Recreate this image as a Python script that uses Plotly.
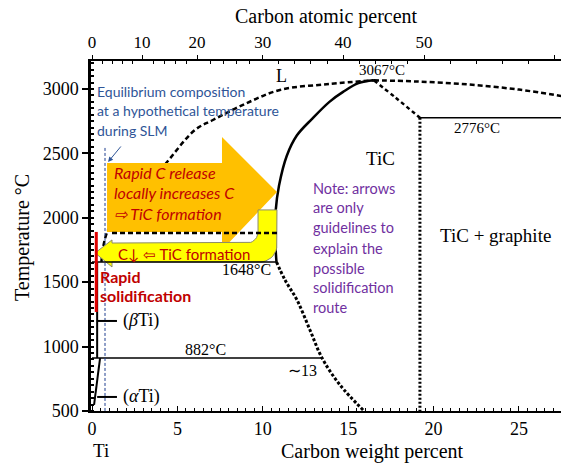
import numpy as np
import plotly.graph_objects as go

# ---------------- axis ticks ----------------
wt_ticks = [0, 5, 10, 15, 20, 25]
temp_ticks = [500, 1000, 1500, 2000, 2500, 3000]
at_labels = ["0", "10", "20", "30", "40", "50", "60"]
at_values = [0, 10, 20, 30, 40, 50, 60]
at_pos_wt = [0, 2.93, 6.15, 10.0, 14.7, 19.44, 27.05]

# ---------------- phase boundaries (wt% C, °C) ----------------
liq_left_w = [0.55, 0.94, 2.52, 4.10, 6.03, 7.08, 8.96, 11.0, 13.93, 16.5]
liq_left_T = [1657, 1905, 2161, 2387, 2682, 2759, 2884, 2992, 3039, 3067]
liq_right_w = [16.5, 19.0, 22.0, 25.0, 27.5]
liq_right_T = [3067, 3058, 3035, 2995, 2945]
tic_sol_w = [10.8, 10.72, 10.75, 10.95, 11.4, 12.0, 12.9, 13.9, 14.7, 15.6, 16.5]
tic_sol_T = [1657, 1850, 2050, 2250, 2480, 2640, 2770, 2900, 2977, 3045, 3067]
tic_right_w = [16.5, 17.8, 19.2]
tic_right_T = [3067, 2930, 2776]
tic_low_w = [10.8, 11.3, 12.0, 12.76, 13.47, 14.52, 15.87]
tic_low_T = [1657, 1517, 1362, 1129, 911, 702, 508]
eut_high_w = [19.2, 27.5]
eut_high_T = [2776, 2776]
tic_c_w = [19.2, 19.2]
tic_c_T = [2776, 500]
eut_low_w = [0, 10.8]
eut_low_T = [1657, 1657]
eutectoid_w = [0, 13.47]
eutectoid_T = [911, 911]
beta_w = [0.3, 0.3]
beta_T = [1657, 911]
alpha_w = [0.47, 0.12]
alpha_T = [911, 547]
guide_w = [1.17, 10.83]
guide_T = [1882, 1882]
slm_w = [0.76, 0.76]
slm_T = [2542, 500]
rapid_w = [0.25, 0.25]
rapid_T = [1890, 1269]
beta_ptr_w = [0.3, 1.46]
beta_ptr_T = [1199, 1199]
alpha_ptr_w = [0.3, 1.46]
alpha_ptr_T = [609, 609]

# ---------------- arrows (wt% C, °C) ----------------
orange_w = [0.88, 7.61, 7.61, 10.83, 7.61, 7.61, 0.88, 0.88]
orange_T = [2425, 2425, 2627, 2200, 1750, 1890, 1890, 2425]

# yellow U-turn arrow
y_tip = (0.18, 1727)
y_head_x = 1.17
y_head_top, y_head_bot = 1828, 1618
y_shaft_top, y_shaft_bot = 1804, 1657
y_inner_x, y_outer_x, y_top = 9.72, 10.83, 2061
ri_w, ri_T = 0.644, 85.4
ro_w, ro_T = 0.995, 132.0

th = np.linspace(-np.pi / 2, 0, 10)
inner_w = list((y_inner_x - ri_w) + ri_w * np.cos(th))
inner_T = list((y_shaft_top + ri_T) + ri_T * np.sin(th))
th2 = np.linspace(0, -np.pi / 2, 10)
outer_w = list((y_outer_x - ro_w) + ro_w * np.cos(th2))
outer_T = list((y_shaft_bot + ro_T) + ro_T * np.sin(th2))
yellow_w = ([y_tip[0], y_head_x, y_head_x] + inner_w + [y_inner_x, y_outer_x]
            + outer_w + [y_head_x, y_head_x, y_tip[0]])
yellow_T = ([y_tip[1], y_head_top, y_shaft_top] + inner_T + [y_top, y_top]
            + outer_T + [y_shaft_bot, y_head_bot, y_tip[1]])

SERIF = "Liberation Serif"
SANS = "Lato"
BLUE = "#2F5597"
PURPLE = "#7030A0"
RED = "#C00000"

fig = go.Figure()


def line(w, T, color="black", width=2.0, dash="solid", shape="linear"):
    fig.add_trace(go.Scatter(x=w, y=T, mode="lines", hoverinfo="skip",
                             line=dict(color=color, width=width, dash=dash, shape=shape),
                             showlegend=False))


line(liq_left_w, liq_left_T, width=2.5, dash="5px,3px", shape="spline")
line(liq_right_w, liq_right_T, width=2.5, dash="5px,3px", shape="spline")
line(tic_sol_w, tic_sol_T, width=2.5, shape="spline")
line(tic_right_w, tic_right_T, width=2.5, dash="4px,3px", shape="spline")
line(tic_low_w, tic_low_T, width=3, dash="3px,2px", shape="spline")
line(eut_high_w, eut_high_T, width=1.5)
line(tic_c_w, tic_c_T, width=3, dash="2px,2px")
line(eutectoid_w, eutectoid_T, width=1.5)
line(beta_w, beta_T, width=2)
line(alpha_w, alpha_T, width=2)
line(slm_w, slm_T, color="#1F3F8F", width=1, dash="3px,2px")

# arrows
fig.add_trace(go.Scatter(x=orange_w, y=orange_T, mode="lines", fill="toself",
                         fillcolor="#FFC000", line=dict(width=0, color="#FFC000"),
                         hoverinfo="skip", showlegend=False))
fig.add_trace(go.Scatter(x=yellow_w, y=yellow_T, mode="lines", fill="toself",
                         fillcolor="#FFFF00", line=dict(width=1, color="#8c8c6a"),
                         hoverinfo="skip", showlegend=False))
line(guide_w, guide_T, width=2.5, dash="5px,3px")
line(eut_low_w, eut_low_T, width=1.5)
line(beta_ptr_w, beta_ptr_T, width=2)
line(alpha_ptr_w, alpha_ptr_T, width=2)
line(rapid_w, rapid_T, color="#E00000", width=3)

# dummy trace for the top axis
fig.add_trace(go.Scatter(x=[None], y=[None], xaxis="x2", showlegend=False, hoverinfo="skip"))

ann = []


def txt(x, y, s, size, color="black", family=SERIF, xanchor="center", xref="x", yref="y",
        textangle=0):
    ann.append(dict(x=x, y=y, xref=xref, yref=yref, text=s, showarrow=False,
                    xanchor=xanchor, yanchor="middle", textangle=textangle,
                    font=dict(family=family, size=size, color=color)))


# serif labels
txt(11.12, 3101, "L", 18)
txt(16.98, 3147, "3067°C", 15)
txt(22.54, 2697, "2776°C", 15)
txt(16.92, 2457, "TiC", 19)
txt(23.6, 1866, "TiC + graphite", 19)
txt(9.07, 1595, "1648°C", 16)
txt(6.67, 974, "882°C", 16)
txt(12.35, 818, "∼13", 16)
txt(1.70, 1199, "(<i>β</i>Ti)", 18, xanchor="left")
txt(1.70, 609, "(<i>α</i>Ti)", 18, xanchor="left")
txt(0.53, -0.114, "Ti", 19, yref="paper")
txt(0.502, 1.126, "Carbon atomic percent", 20, xref="paper", yref="paper")
txt(0.598, -0.117, "Carbon weight percent", 20, xref="paper", yref="paper")
txt(-0.147, 0.497, "Temperature °C", 20, xref="paper", yref="paper", textangle=-90)

# blue
for yv, s in zip([2984, 2829, 2674],
                 ["Equilibrium composition", "at a hypothetical temperature", "during SLM"]):
    txt(0.18, yv, s, 14, color=BLUE, family=SANS, xanchor="left")
ann.append(dict(x=0.94, y=2433, ax=1.76, ay=2565, xref="x", yref="y", axref="x", ayref="y",
                showarrow=True, arrowhead=2, arrowsize=1, arrowwidth=1, arrowcolor=BLUE, text=""))

# purple note
for yv, s in zip([2231, 2076, 1921, 1765, 1610, 1455, 1300],
                 ["Note: arrows", "are only", "guidelines to", "explain the", "possible",
                  "solidification", "route"]):
    txt(12.82, yv, s, 14.5, color=PURPLE, family=SANS, xanchor="left")

# orange arrow text
for yv, s in zip([2348, 2193, 2037],
                 ["<i>Rapid C release</i>", "<i>locally increases C</i>", "<i>⇨ TiC formation</i>"]):
    txt(1.17, yv, s, 16, color=RED, family=SANS, xanchor="left")
txt(1.40, 1722, "C↓ ⇦ TiC formation", 15, color=RED, family=SANS, xanchor="left")

# red text
txt(0.35, 1548, "<b>Rapid</b>", 16, color=RED, family=SANS, xanchor="left")
txt(0.35, 1393, "<b>solidification</b>", 16, color=RED, family=SANS, xanchor="left")

minor_top = list(np.interp([v for v in range(2, 62, 2) if v % 10 != 0], at_values, at_pos_wt))

fig.update_layout(
    width=561, height=468,
    margin=dict(l=91, r=0, t=61, b=57),
    paper_bgcolor="white", plot_bgcolor="white",
    showlegend=False,
    annotations=ann,
    xaxis=dict(range=[-0.06, 27.46], tickvals=wt_ticks, ticks="inside", ticklen=5,
               tickwidth=1, tickcolor="black", showline=True, linewidth=2, linecolor="black",
               showgrid=False, zeroline=False, automargin=False,
               minor=dict(dtick=0.5, ticks="inside", ticklen=3, tickcolor="black", showgrid=False),
               tickfont=dict(family=SERIF, size=18, color="black")),
    xaxis2=dict(range=[-0.06, 27.46], overlaying="x", side="top", anchor="y",
                tickvals=at_pos_wt, ticktext=at_labels, ticks="outside", ticklen=4,
                tickcolor="black", showline=True, linewidth=1.5, linecolor="black",
                showgrid=False, zeroline=False, automargin=False,
                minor=dict(tickvals=minor_top, ticks="inside", ticklen=3, tickcolor="black",
                           showgrid=False),
                tickfont=dict(family=SERIF, size=17, color="black")),
    yaxis=dict(range=[500, 3217], tickvals=temp_ticks, ticks="outside", ticklen=6,
               tickwidth=1.5, tickcolor="black", showline=True, linewidth=2.5,
               linecolor="black", showgrid=False, zeroline=False, automargin=False,
               minor=dict(dtick=50, ticks="inside", ticklen=3, tickcolor="black", showgrid=False),
               tickfont=dict(family=SERIF, size=18, color="black")),
)

fig.write_html("out.html", config={"displayModeBar": False},
               post_script="document.body.style.margin='0px';")
